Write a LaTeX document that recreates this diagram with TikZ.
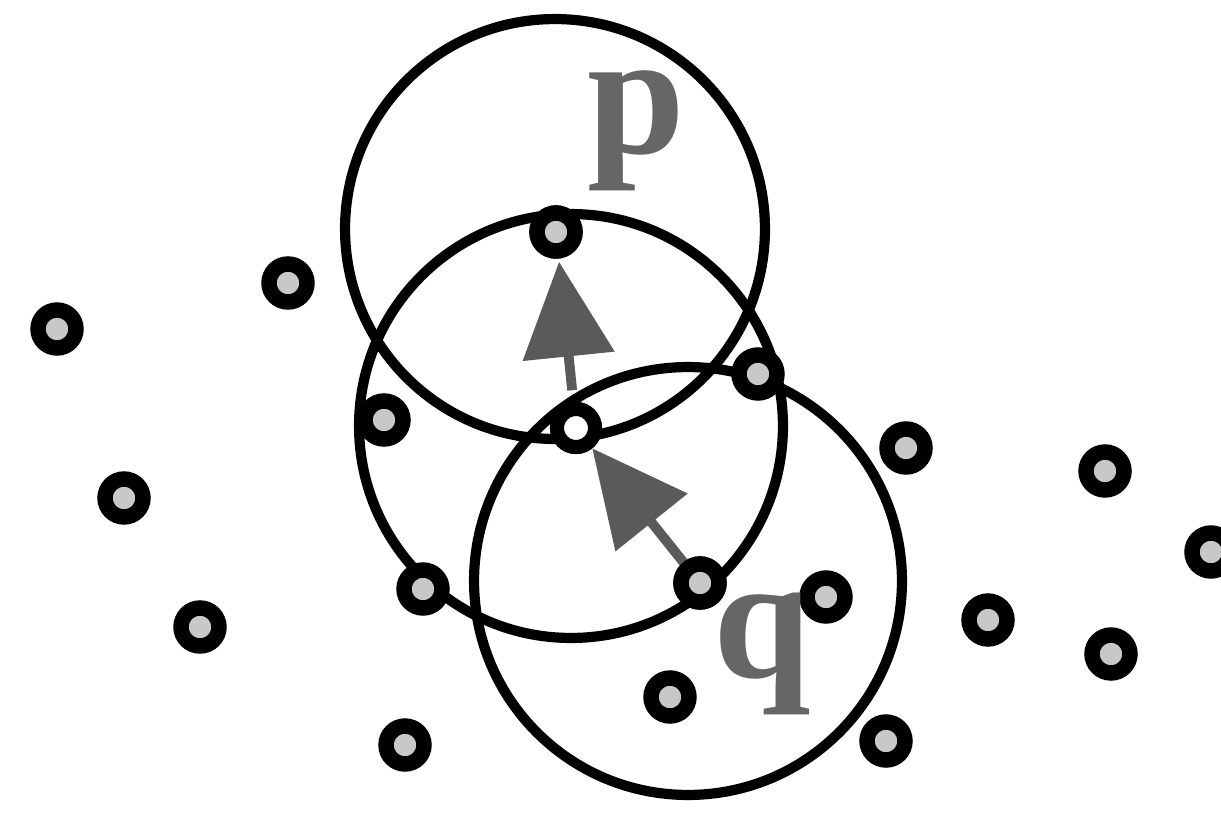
\documentclass[tikz,border=0pt]{standalone}
\usepackage{fontspec}
\setmainfont{Liberation Serif}
\usetikzlibrary{arrows.meta}
\definecolor{ringfill}{HTML}{C8C8C8}
\definecolor{arrgray}{HTML}{5A5A5A}
\definecolor{lblgray}{HTML}{666666}
\begin{document}
\begin{tikzpicture}[x=0.02cm,y=-0.02cm,
  dot/.style={circle,draw=black,fill=ringfill,line width=8.8pt,minimum size=0.76cm,inner sep=0pt},
  wdot/.style={dot,fill=white,line width=8pt},
  bigcirc/.style={draw=black,line width=5.8pt},
  arr/.style={draw=arrgray,line width=5.6pt,-{Triangle[length=1.9cm,width=1.8cm]}},
  lbl/.style={text=lblgray,font=\fontsize{100}{100}\selectfont\bfseries,inner sep=0pt,anchor=base}]
\useasboundingbox (0,0) rectangle (1221,815);
% circle centres
\coordinate (c1) at (555,229);
\coordinate (c2) at (571,426);
\coordinate (c3) at (688,581);
\draw[bigcirc] (c1) circle[radius=4.2cm];
\draw[bigcirc] (c2) circle[radius=4.24cm];
\draw[bigcirc] (c3) circle[radius=4.28cm];
% key points
\node[dot] (d8) at (556,232) {};
\node[wdot] (w) at (576,428) {};
\node[dot] (q) at (700,583) {};
% arrows
\draw[arr,shorten <=0.76cm,shorten >=0.6cm] (w.center) -- (d8.center);
\draw[arr,shorten <=0.42cm,shorten >=0.52cm] (q.center) -- (w.center);
% dots
\node[dot] at (d8) {};
\node[wdot] at (w) {};
\node[dot] at (q) {};
\node[dot] (d1) at (57,329) {};
\node[dot] (d2) at (288,283) {};
\node[dot] (d3) at (124,498) {};
\node[dot] (d4) at (200,627) {};
\node[dot] (d5) at (405,745) {};
\node[dot] (d6) at (423,589) {};
\node[dot] (d7) at (384,420) {};
\node[dot] (d10) at (758,374) {};
\node[dot] (d12) at (826,597) {};
\node[dot] (d13) at (670,697) {};
\node[dot] (d14) at (906,448) {};
\node[dot] (d15) at (886,741) {};
\node[dot] (d16) at (988,620) {};
\node[dot] (d17) at (1105,471) {};
\node[dot] (d18) at (1211,552) {};
\node[dot] (d19) at (1111,654) {};
% labels
\node[lbl] (lp) at (636,153) {p};
\node[lbl] (lq) at (762,677) {q};
\end{tikzpicture}
\end{document}
